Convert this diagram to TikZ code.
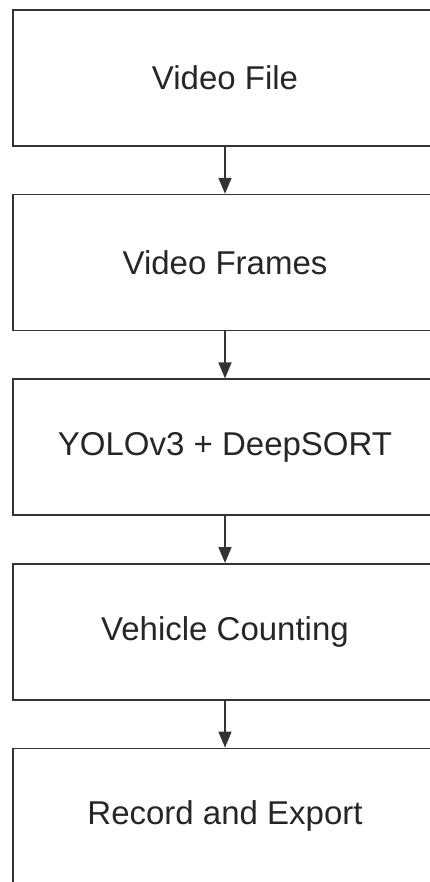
\documentclass[tikz,border=0pt]{standalone}
\usepackage{fontspec}
\setmainfont{Liberation Sans}
\usetikzlibrary{positioning}
\usetikzlibrary{arrows.meta}
\tikzset{
    mybox/.style = {rectangle, line width=1.6pt, draw=black!80, align=center, minimum width=424pt, minimum height=136pt, font=\fontsize{33}{40}\selectfont, text=black!85},
    edgea/.style = {-{Triangle[width=13pt,length=16pt]}, line width=1.6pt, black!80}
}
\begin{document}
\begin{tikzpicture}[node distance=47pt]
  \useasboundingbox (0,0) rectangle (430pt,-882pt);
  \clip (0,0) rectangle (430pt,-882pt);
  \node[mybox] (file) at (225pt,-78pt) {Video File};
  \node[mybox, below=of file] (frames) {Video Frames};
  \node[mybox, below=of frames] (yolo) {YOLOv3 + DeepSORT};
  \node[mybox, below=of yolo] (count) {Vehicle Counting};
  \node[mybox, below=of count] (export) {Record and Export};
  \draw[edgea] (file) -- (frames);
  \draw[edgea] (frames) -- (yolo);
  \draw[edgea] (yolo) -- (count);
  \draw[edgea] (count) -- (export);
\end{tikzpicture}
\end{document}
